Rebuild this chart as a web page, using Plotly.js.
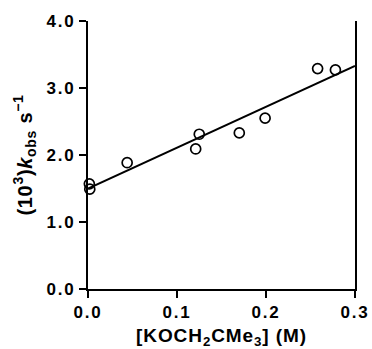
<!DOCTYPE html>
<html>
<head>
<meta charset="utf-8">
<script src="https://cdn.plot.ly/plotly-3.0.1.min.js"></script>
<style>
html,body{margin:0;padding:0;background:#fff;}
#chart{width:372px;height:349px;}
.xtick text,.ytick text{letter-spacing:1.8px;}
.g-xtitle text{letter-spacing:0.9px;}
.g-ytitle text{letter-spacing:0.7px;}
</style>
</head>
<body>
<div id="chart"></div>
<script>
// Observed data
var concM = [0.0015, 0.002, 0.044, 0.121, 0.125, 0.170, 0.199, 0.258, 0.278];
var kobs  = [1.57, 1.49, 1.885, 2.09, 2.31, 2.33, 2.55, 3.29, 3.27];
// Linear fit line
var fitX = [0.0, 0.3];
var fitY = [1.50, 3.33];
var xTickVals = [0, 0.1, 0.2, 0.3];
var xTickText = ['0.0', '0.1', '0.2', '0.3'];
var yTickVals = [0, 1, 2, 3, 4];
var yTickText = ['0.0', '1.0', '2.0', '3.0', '4.0'];

var fontFam = 'Liberation Sans, Arial, sans-serif';

var traces = [
  {x: fitX, y: fitY, mode: 'lines', line: {color: '#000', width: 2}, hoverinfo: 'skip', cliponaxis: false},
  {x: concM, y: kobs, mode: 'markers', cliponaxis: false,
   marker: {symbol: 'circle-open', size: 10, color: '#000', line: {color: '#000', width: 1.7}}}
];

var layout = {
  width: 372, height: 349,
  margin: {l: 88, r: 17, t: 21, b: 60},
  paper_bgcolor: '#fff', plot_bgcolor: '#fff',
  showlegend: false,
  font: {family: fontFam, color: '#000'},
  xaxis: {
    range: [0, 0.3], tickvals: xTickVals, ticktext: xTickText,
    showgrid: false, zeroline: false, showline: true, linecolor: '#000', linewidth: 2,
    ticks: 'outside', ticklen: 7, tickwidth: 2, tickcolor: '#000',
    tickfont: {family: fontFam, size: 17, weight: 700, color: '#000'},
    title: {text: '[KOCH<sub>2</sub>CMe<sub>3</sub>] (M)', standoff: 13,
            font: {family: fontFam, size: 19, weight: 700, color: '#000'}}
  },
  yaxis: {
    range: [0, 4], tickvals: yTickVals, ticktext: yTickText,
    showgrid: false, zeroline: false, showline: true, mirror: true, linecolor: '#000', linewidth: 2,
    ticks: 'outside', ticklen: 7, tickwidth: 2, tickcolor: '#000',
    tickfont: {family: fontFam, size: 17, weight: 700, color: '#000'},
    title: {text: '(10<sup>3</sup>)<i>k</i><sub>obs</sub> s<sup>\u22121</sup>', standoff: 9,
            font: {family: fontFam, size: 20, weight: 700, color: '#000'}}
  }
};

Plotly.newPlot('chart', traces, layout, {staticPlot: true, displayModeBar: false});
</script>
</body>
</html>
